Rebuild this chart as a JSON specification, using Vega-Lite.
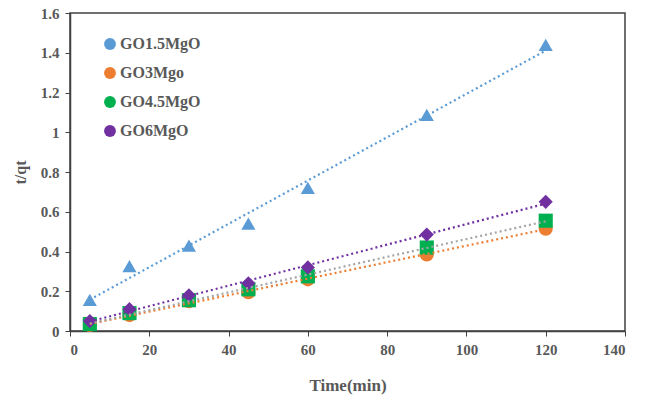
{
  "$schema": "https://vega.github.io/schema/vega-lite/v6.json",
  "autosize": {"type": "none"},
  "width": 555,
  "height": 318,
  "padding": {"left": 70, "top": 13, "right": 26, "bottom": 74},
  "background": "white",
  "config": {
    "view": {"stroke": "#404040", "strokeWidth": 1.5},
    "font": "Liberation Serif"
  },
  "data": {
    "values": [
      {"series": "GO1.5MgO", "time": 5, "tq": 0.156},
      {"series": "GO1.5MgO", "time": 15, "tq": 0.327},
      {"series": "GO1.5MgO", "time": 30, "tq": 0.43},
      {"series": "GO1.5MgO", "time": 45, "tq": 0.54},
      {"series": "GO1.5MgO", "time": 60, "tq": 0.72},
      {"series": "GO1.5MgO", "time": 90, "tq": 1.087},
      {"series": "GO1.5MgO", "time": 120, "tq": 1.44},
      {"series": "GO3Mgo", "time": 5, "tq": 0.03},
      {"series": "GO3Mgo", "time": 15, "tq": 0.08},
      {"series": "GO3Mgo", "time": 30, "tq": 0.15},
      {"series": "GO3Mgo", "time": 45, "tq": 0.195},
      {"series": "GO3Mgo", "time": 60, "tq": 0.26},
      {"series": "GO3Mgo", "time": 90, "tq": 0.385},
      {"series": "GO3Mgo", "time": 120, "tq": 0.515},
      {"series": "GO4.5MgO", "time": 5, "tq": 0.035},
      {"series": "GO4.5MgO", "time": 15, "tq": 0.09},
      {"series": "GO4.5MgO", "time": 30, "tq": 0.155},
      {"series": "GO4.5MgO", "time": 45, "tq": 0.21},
      {"series": "GO4.5MgO", "time": 60, "tq": 0.275},
      {"series": "GO4.5MgO", "time": 90, "tq": 0.42},
      {"series": "GO4.5MgO", "time": 120, "tq": 0.555},
      {"series": "GO6MgO", "time": 5, "tq": 0.05},
      {"series": "GO6MgO", "time": 15, "tq": 0.11},
      {"series": "GO6MgO", "time": 30, "tq": 0.18},
      {"series": "GO6MgO", "time": 45, "tq": 0.24},
      {"series": "GO6MgO", "time": 60, "tq": 0.32},
      {"series": "GO6MgO", "time": 90, "tq": 0.485},
      {"series": "GO6MgO", "time": 120, "tq": 0.65}
    ]
  },
  "encoding": {
    "x": {
      "field": "time", "type": "quantitative",
      "scale": {"domain": [0, 140], "nice": false},
      "axis": {
        "values": [0, 20, 40, 60, 80, 100, 120, 140],
        "title": "Time(min)", "grid": false, "labelOverlap": false,
        "domainColor": "#404040", "domainWidth": 1.5,
        "tickColor": "#404040", "tickSize": 5,
        "labelFont": "Liberation Serif", "labelFontSize": 15, "labelFontWeight": "bold", "labelColor": "#595959",
        "labelPadding": 6,
        "titleFont": "Liberation Serif", "titleFontSize": 17, "titleFontWeight": "bold", "titleColor": "#595959",
        "titlePadding": 20
      }
    },
    "y": {
      "field": "tq", "type": "quantitative",
      "scale": {"domain": [0, 1.6], "nice": false},
      "axis": {
        "values": [0, 0.2, 0.4, 0.6, 0.8, 1, 1.2, 1.4, 1.6],
        "labelExpr": "'' + datum.value",
        "title": "t/qt", "grid": false, "labelOverlap": false,
        "domainColor": "#404040", "domainWidth": 1.5,
        "tickColor": "#404040", "tickSize": 5,
        "labelFont": "Liberation Serif", "labelFontSize": 15, "labelFontWeight": "bold", "labelColor": "#595959",
        "labelPadding": 6,
        "titleFont": "Liberation Serif", "titleFontSize": 16, "titleFontWeight": "bold", "titleColor": "#595959",
        "titlePadding": 12
      }
    }
  },
  "resolve": {"scale": {"color": "independent"}},
  "layer": [
    {
      "mark": {"type": "point", "filled": true, "opacity": 1, "size": 200},
      "encoding": {
        "color": {
          "field": "series", "type": "nominal",
          "scale": {"domain": ["GO1.5MgO", "GO3Mgo", "GO4.5MgO", "GO6MgO"], "range": ["#5B9BD5", "#ED7D31", "#00B050", "#7030A0"]},
          "legend": {
            "orient": "none", "legendX": 32, "legendY": 23, "title": null,
            "labelFont": "Liberation Serif", "labelFontSize": 16, "labelFontWeight": "bold", "labelColor": "#595959",
            "symbolSize": 140, "rowPadding": 13, "labelOffset": 2, "symbolOpacity": 1
          }
        },
        "shape": {
          "field": "series", "type": "nominal",
          "scale": {"domain": ["GO1.5MgO", "GO3Mgo", "GO4.5MgO", "GO6MgO"], "range": ["triangle-up", "circle", "square", "diamond"]},
          "legend": null
        }
      }
    },
    {
      "transform": [
        {"regression": "tq", "on": "time", "groupby": ["series"], "extent": [5, 120]}
      ],
      "mark": {"type": "line", "strokeDash": [2, 3], "strokeWidth": 2.2},
      "encoding": {
        "color": {
          "field": "series", "type": "nominal",
          "scale": {"domain": ["GO1.5MgO", "GO3Mgo", "GO4.5MgO", "GO6MgO"], "range": ["#5B9BD5", "#ED7D31", "#A5A5A5", "#7030A0"]},
          "legend": null
        }
      }
    }
  ]
}
